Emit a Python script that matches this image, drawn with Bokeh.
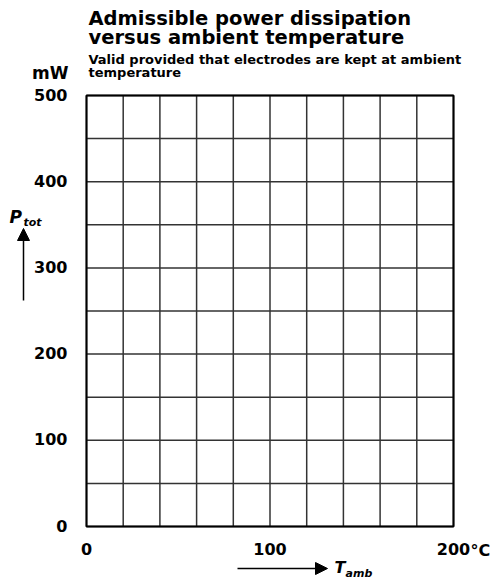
from bokeh.plotting import figure
from bokeh.models import Label, Arrow, NormalHead, Range1d
from bokeh.core.properties import value
from bokeh.embed import file_html
from bokeh.resources import INLINE

# ---- data ----
x_ticks = [0, 100, 200]
x_tick_labels = ["0", "100", "200"]
y_ticks = [0, 100, 200, 300, 400, 500]
y_tick_labels = ["0", "100", "200", "300", "400", "500"]
x_grid = [0, 20, 40, 60, 80, 100, 120, 140, 160, 180, 200]
y_grid = [0, 50, 100, 150, 200, 250, 300, 350, 400, 450, 500]
x_min, x_max = 0, 200
y_min, y_max = 0, 500
title_lines = ["Admissible power dissipation", "versus ambient temperature"]
subtitle_lines = ["Valid provided that electrodes are kept at ambient", "temperature"]
y_unit = "mW"
x_unit = "°C"

W, H = 493, 582
FL, FR, FT, FB = 86, 453, 95, 526  # plot area in canvas px

sx = (FR - FL) / (x_max - x_min)
sy = (FB - FT) / (y_max - y_min)

p = figure(width=W, height=H, output_backend="svg", toolbar_location=None,
           x_axis_location=None, y_axis_location=None,
           x_range=Range1d(x_min - FL / sx, x_min + (W - FL) / sx),
           y_range=Range1d(y_min - (H - FB) / sy, y_min + FB / sy),
           min_border=0)
p.min_border_left = p.min_border_right = p.min_border_top = p.min_border_bottom = 0
p.outline_line_color = None
p.background_fill_color = "white"
p.border_fill_color = "white"
p.grid.visible = False

FONT = "DejaVu Sans"

def X(px):
    return x_min + (px - FL) / sx

def Y(py):
    return y_min + (FB - py) / sy

# grid
p.segment(x0=x_grid, y0=[y_min] * len(x_grid), x1=x_grid, y1=[y_max] * len(x_grid),
          line_color="#333333", line_width=1.5)
p.segment(x0=[x_min] * len(y_grid), y0=y_grid, x1=[x_max] * len(y_grid), y1=y_grid,
          line_color="#333333", line_width=1.5)
p.quad(left=[x_min], right=[x_max], bottom=[y_min], top=[y_max],
       fill_color=None, line_color="black", line_width=2)

# tick labels
p.text(x=[x_min] * len(y_ticks), y=y_ticks, text=y_tick_labels,
       x_offset=-19, y_offset=-1, text_align="right", text_baseline="middle",
       text_font=value(FONT), text_font_style="bold", text_font_size="16px",
       text_color="black")
p.text(x=x_ticks, y=[y_min] * len(x_ticks), text=x_tick_labels,
       y_offset=22, text_align="center", text_baseline="middle",
       text_font=value(FONT), text_font_style="bold", text_font_size="16px",
       text_color="black")

def lab(text, px, py, size, style="bold", align="left"):
    # baseline correction (empirical)
    py = py - 0.35 * size
    p.add_layout(Label(x=X(px), y=Y(py), text=text, text_font=FONT,
                       text_font_size=f"{size}px", text_font_style=style,
                       text_align=align, text_baseline="alphabetic", text_color="black"))

lab(title_lines[0], 88, 25, 19.5)
lab(title_lines[1], 88, 44, 19.5)
lab(subtitle_lines[0], 88, 64, 13)
lab(subtitle_lines[1], 88, 77, 13)
lab(y_unit, 68, 78, 17, align="right")
lab(x_unit, 470, 556, 16)

# P_tot
lab("P", 9, 222, 17, style="bold italic")
lab("tot", 23, 226, 11, style="bold italic")
p.add_layout(Arrow(x_start=X(23), y_start=Y(300), x_end=X(23), y_end=Y(228),
                   line_color="black", line_width=1.5,
                   end=NormalHead(size=12, fill_color="black", line_color="black")))
# T_amb
lab("T", 334, 573, 16, style="bold italic")
lab("amb", 345, 577, 11, style="bold italic")
p.add_layout(Arrow(x_start=X(237), y_start=Y(568), x_end=X(327), y_end=Y(568),
                   line_color="black", line_width=1.5,
                   end=NormalHead(size=12, fill_color="black", line_color="black")))

open("out.html", "w").write(file_html(p, INLINE))
